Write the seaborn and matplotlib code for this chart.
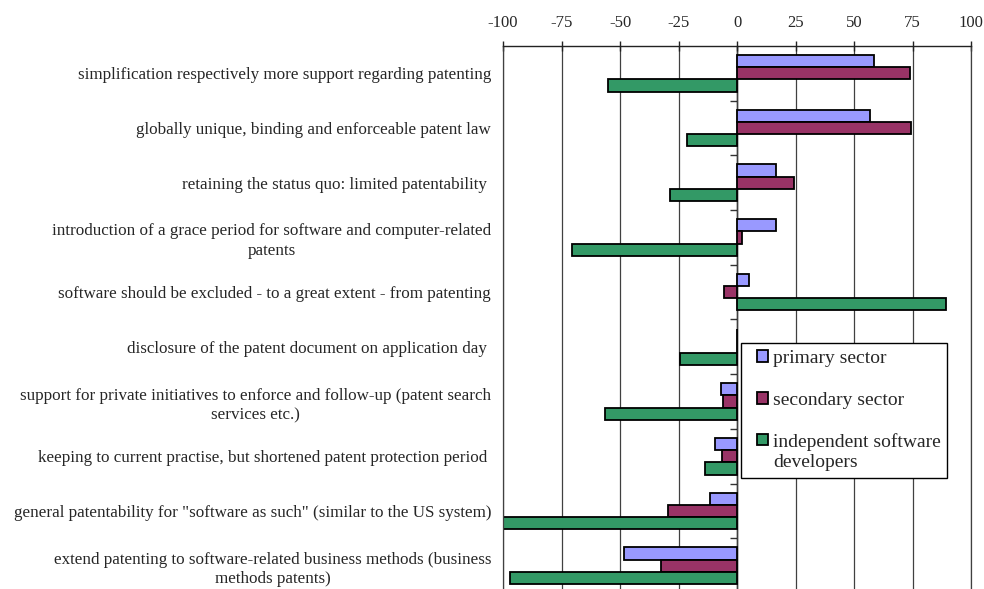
import pandas as pd
import seaborn as sns
import matplotlib.pyplot as plt
from matplotlib.legend_handler import HandlerPatch
from matplotlib.patches import Rectangle

items = [
    "simplification respectively more support regarding patenting",
    "globally unique, binding and enforceable patent law",
    "retaining the status quo: limited patentability ",
    "introduction of a grace period for software and computer-related\npatents",
    "software should be excluded - to a great extent - from patenting",
    "disclosure of the patent document on application day ",
    "support for private initiatives to enforce and follow-up (patent search\nservices etc.)",
    "keeping to current practise, but shortened patent protection period ",
    "general patentability for \"software as such\" (similar to the US system)",
    "extend patenting to software-related business methods (business\nmethods patents)",
]
groups = ["primary sector", "secondary sector", "independent software developers"]
primary = [58.5, 57, 16.5, 16.5, 5, 0, -7, -9.5, -11.5, -48.5]
secondary = [74, 74.5, 24.5, 2, -5.5, 0, -6, -6.5, -29.5, -32.5]
independent = [-55, -21.5, -28.5, -70.5, 89.5, -24.5, -56.5, -13.5, -100, -97]
legend_labels = ["primary sector", "secondary sector", "independent software\ndevelopers"]
xticks = [-100, -75, -50, -25, 0, 25, 50, 75, 100]
colors = ["#9999FF", "#993366", "#339966"]

df = pd.DataFrame({
    "item": items * 3,
    "group": [groups[0]] * 10 + [groups[1]] * 10 + [groups[2]] * 10,
    "value": primary + secondary + independent,
})

sns.set_style("white")
plt.rcParams["font.family"] = ["Liberation Serif", "DejaVu Serif"]

fig = plt.figure(figsize=(9.84, 5.89), dpi=100)
ax = fig.add_axes([503 / 984, -4 / 589, 468 / 984, 547 / 589])

sns.barplot(data=df, y="item", x="value", hue="group", hue_order=groups,
            palette=colors, orient="h", width=0.67, gap=0,
            edgecolor="black", linewidth=1.3, saturation=1, ax=ax)

ax.set_xlim(-100, 100)
ax.set_ylim(9.5, -0.5)
ax.set_xlabel("")
ax.set_ylabel("")

# top axis
ax.xaxis.tick_top()
ax.set_xticks(xticks)
ax.set_xticklabels([str(t) for t in xticks])
ax.tick_params(axis="x", direction="inout", length=7, width=1, color="#222222",
               labelsize=12, pad=7, top=True, bottom=False)
ax.tick_params(axis="y", length=0, labelsize=12.25, pad=8.5)
for lbl in ax.get_yticklabels():
    lbl.set_multialignment("center")
    lbl.set_linespacing(1.3)

ax.grid(axis="x", color="#404040", linewidth=0.9)
ax.grid(axis="y", visible=False)
ax.set_axisbelow(True)
for s in ["left", "right"]:
    ax.spines[s].set_color("#404040")
    ax.spines[s].set_linewidth(0.9)
ax.spines["top"].set_color("#222222")
ax.spines["top"].set_linewidth(1)
ax.spines["bottom"].set_visible(False)

# zero axis with category separators
sec = ax.secondary_yaxis(0.5)
sec.set_alignment("left")
sec.set_yticks([i + 0.5 for i in range(9)], labels=[""] * 9)
sec.tick_params(direction="out", length=5, width=1, color="#333333")
sec.spines["left"].set_color("black")
sec.spines["left"].set_linewidth(1)

leg = ax.get_legend()
handles = leg.legend_handles
leg = ax.legend(handles, legend_labels, loc="upper left", bbox_to_anchor=(0.509, 0.457),
                borderaxespad=0, fontsize=14, frameon=True, fancybox=False,
                edgecolor="black", framealpha=1, labelspacing=1.28,
                handlelength=1.03, handleheight=0.55, handletextpad=0.25,
                borderpad=0.35, handler_map={Rectangle: HandlerPatch(xpad=0.45)})
leg.get_frame().set_linewidth(1)
# keep the handle of the two-line entry level with its first line
rows = leg._legend_handle_box.get_children()[0].get_children()
rows[-1].align = "top"

fig.savefig("out.png", dpi=100)
